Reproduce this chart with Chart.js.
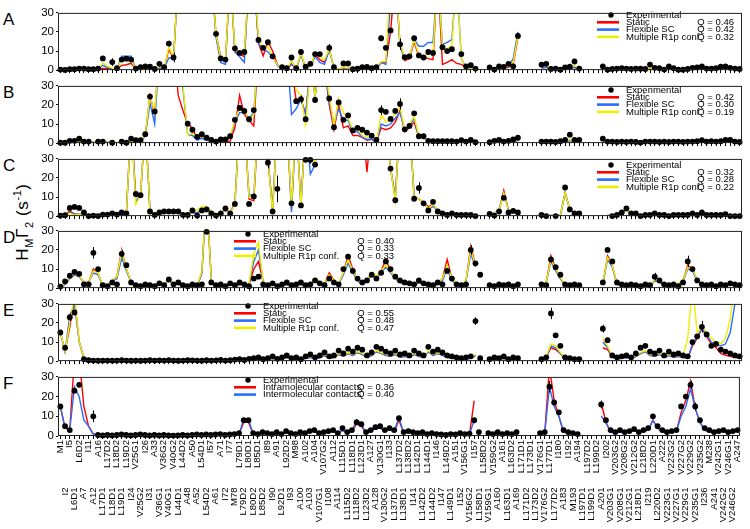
<!DOCTYPE html>
<html>
<head>
<meta charset="utf-8">
<script src="https://cdn.jsdelivr.net/npm/chart.js@4.4.1/dist/chart.umd.min.js"></script>
<style>
  body { margin: 0; background: #fff; width: 750px; height: 529px; overflow: hidden; position: relative;
         font-family: "Liberation Sans", Arial, sans-serif; }
  canvas { position: absolute; left: 0; }
  .letter { position: absolute; left: 3px; font-size: 17px; line-height: 17px; }
  #ytitle { position: absolute; left: 23px; top: 222px; font-size: 17px; white-space: nowrap; letter-spacing: 0.6px;
            transform: translate(-50%, -50%) rotate(-90deg); }
  #ytitle sub, #ytitle sup { font-size: 11px; }
</style>
</head>
<body>
<div id="ytitle">H<sub>M</sub>Γ<sub>2</sub> (s<sup>-1</sup>)</div>
<script>
const _ = null;

// residue labels along the x axis
const residues = [
  "M1", "I2", "I5", "L6D1", "L6D2", "A7", "I11", "A12", "A16", "L17D1",
  "L17D2", "L18D1", "L18D2", "L19D1", "L19D2", "I24", "V25G1", "V25G2", "I26", "I31",
  "A33", "V36G1", "V36G2", "V40G1", "V40G2", "L44D1", "L44D2", "A48", "A50", "A52",
  "L54D1", "L54D2", "I57", "A61", "A71", "I72", "I77", "M78", "L79D1", "L79D2",
  "L80D1", "L80D2", "L85D1", "L85D2", "I89", "I90", "A91", "L92D1", "L92D2", "I93",
  "M98", "A100", "A102", "A103", "A104", "V107G1", "V107G2", "I108", "A112", "A114",
  "L115D1", "L115D2", "L118D1", "L118D2", "L123D1", "L123D2", "A127", "A128", "V130G1", "V130G2",
  "I133", "L137D1", "L137D2", "L138D1", "L138D2", "I141", "L142D1", "L142D2", "L144D1", "L144D2",
  "I146", "I147", "L149D2", "L149D1", "A151", "I152", "V156G1", "V156G2", "I157", "L158D1",
  "L158D2", "V159G1", "V159G2", "A160", "A161", "L163D1", "L163D2", "A169", "L171D1", "L171D2",
  "L173D1", "L173D2", "V176G1", "V176G2", "L177D1", "L177D2", "I180", "A183", "I192", "M193",
  "A194", "L197D1", "L197D2", "L199D1", "L199D2", "A201", "I202", "V203G1", "V203G2", "V208G1",
  "V208G2", "V212G1", "V212G2", "L218D1", "L218D2", "I219", "L220D1", "L220D2", "A222", "V223G1",
  "V223G2", "V227G1", "V227G2", "V229G1", "V229G2", "V235G1", "V235G2", "I236", "M238", "A241",
  "V242G1", "V242G2", "V246G1", "V246G2", "A247",
];

// ---- panel A ----
const expA = [
  0.3, 0.1, 0.5, 0.5, 0.8, 0.8, 0.5, 0.5, 0.8, 6.1,
  _, 4.2, 1, 5.5, 6, 5.5, 0.8, 1.5, 2, 1.8,
  0.6, 3.3, 1.5, 13.9, 6.6, _, _, _, _, _,
  _, _, _, 19, 6.1, 5.5, _, 11.4, 9, 9.5,
  _, _, 15.8, 11.7, 14.6, 7.2, _, 1.5, 1, 6.6,
  1, 9.5, 1.8, 3.3, 8.4, 8.4, _, 11.7, 1.5, _,
  3.5, 3.5, 0.5, 0.7, 1.5, 1.7, 1, 1.5, 16.7, 11.7,
  20.8, _, 13.5, 6.8, 7.2, 16.7, 7.7, 6.6, 9.5, 9,
  _, 12, 10, 11, _, 8.4, 2, 2.6, 0.8, _,
  _, 1.4, 0.3, 2, 1.7, 3.3, 2, 17.9, _, _,
  _, _, 2.9, 3.3, 0.6, 0.8, 0.2, 1.4, 1.8, 4.5,
  0.8, _, _, _, _, 2, 0.2, 0.6, 0.8, 1,
  0.8, 0.6, 0.8, 0.7, 0.6, 2.9, 1.2, 1, 0.3, 2,
  1, 0.2, 0.2, 0.6, 1.2, 1.4, 2, 0.8, 0.8, 1,
  1.8, 2, 1.2, 0.8, 0.6,
];
const statA = [
  0.2, 0.2, 0.2, 0.3, 0.3, 0.3, 0.2, 0.2, 0.3, 0.8,
  0.8, 0.6, 0.2, 2.5, 2.8, 3.6, 0.5, 0.8, 1, 0.8,
  0.2, 0.8, 0.8, 11, 6, 50, 50, 50, 50, 50,
  50, 50, 50, 19, 7, 5, 50, 10, 8.5, 7,
  50, 50, 14, 7.5, 15, 10, 3, 0.5, 0.5, 3,
  0.5, 8.5, 1, 2, 8, 5.5, 4, 11, 1, 0.5,
  1, 1.3, 0.5, 0.4, 0.5, 0.5, 0.4, 0.8, 4, 4,
  20, 50, 14, 5, 6, 15, 7, 7, 6, 5.5,
  50, 3, 4, 5.5, 3.5, 3, 1.5, 1, 0.3, _,
  _, 0.8, 0.4, 1.2, 1.2, 1.5, 3, 17, _, _,
  _, _, 1.5, 1.5, 0.6, 0.5, 0.3, 0.8, 1, 1.5,
  0.4, _, _, _, _, 0.3, 0.2, 0.3, 0.3, 0.3,
  0.3, 0.2, 0.3, 0.3, 0.3, 1, 0.4, 0.3, 0.2, 0.6,
  0.3, 0.2, 0.2, 0.3, 0.3, 0.4, 0.5, 0.3, 0.3, 0.3,
  0.4, 0.5, 0.4, 0.3, 0.3,
];
const flexA = [
  0.2, 0.2, 0.2, 0.3, 0.3, 0.3, 0.2, 0.2, 0.3, 2.5,
  1.5, 0.8, 0.3, 7.3, 7.3, 7.3, 0.5, 1, 1.2, 1,
  0.2, 1.2, 1, 6.5, 6, 50, 50, 50, 50, 50,
  50, 50, 50, 17, 4, 3, 50, 9.5, 7, 4,
  50, 50, 14, 11, 9.5, 7, 2.5, 0.3, 0.3, 3.5,
  0.5, 8, 1, 2, 7, 4, 3, 10.5, 1, 0.5,
  1.5, 1.3, 0.5, 0.4, 0.5, 0.5, 0.4, 0.8, 4, 3,
  35, 50, 13, 6, 7, 16, 12.5, 12.5, 14.5, 14.5,
  50, 13.5, 14.5, 16, 50, 6, 1.5, 1, 0.3, _,
  _, 1, 0.5, 1.5, 1.5, 2, 6, 20, _, _,
  _, _, 1, 1.5, 0.6, 0.5, 0.3, 0.8, 1, 1.5,
  0.4, _, _, _, _, 0.3, 0.2, 0.3, 0.3, 0.3,
  0.3, 0.2, 0.3, 0.3, 0.3, 0.6, 0.4, 0.3, 0.2, 0.4,
  0.3, 0.2, 0.2, 0.3, 0.3, 0.4, 0.5, 0.3, 0.3, 0.3,
  0.4, 0.5, 0.4, 0.3, 0.3,
];
const multA = [
  0.3, 0.3, 0.3, 0.4, 0.4, 0.4, 0.3, 0.3, 0.4, 3.8,
  2, 1, 0.3, 5.8, 5.8, 5.5, 0.5, 1, 1.2, 1,
  0.3, 1.8, 1, 12.2, 6.5, 50, 50, 50, 50, 50,
  50, 50, 50, 19, 6, 5, 50, 11, 9, 9,
  50, 50, 17, 12, 12, 7, 3, 0.5, 0.5, 5,
  0.5, 9, 1, 2, 8.5, 7, 5.5, 11, 1, 0.5,
  1.5, 1.3, 0.5, 0.5, 0.5, 0.6, 0.5, 1.5, 4.5, 4.5,
  50, 50, 15, 6, 7, 16, 8, 7, 9, 9,
  50, 12, 11, 13, 50, 6, 1.5, 1, 0.3, _,
  _, 1, 0.5, 1.5, 1.5, 2, 4, 18, _, _,
  _, _, 2, 2.5, 0.8, 0.6, 0.4, 1, 1.2, 2.5,
  0.5, _, _, _, _, 0.5, 0.4, 0.4, 0.5, 0.5,
  0.4, 0.4, 0.5, 0.5, 0.4, 1, 0.6, 0.5, 0.4, 0.8,
  0.5, 0.4, 0.4, 0.5, 0.5, 0.6, 0.8, 0.5, 0.5, 0.5,
  0.8, 0.8, 0.6, 0.5, 0.4,
];
const errA = [[11, 2], [23, 1.5], [24, 2.5], [57, 2], [68, 1.5], [72, 3], [97, 1]];
const qA = ["0.46", "0.42", "0.32"];

// ---- panel B ----
const expB = [
  0.2, 0.2, 1.2, 1.2, 2.3, 0.8, 0.8, _, 0.8, 0.8,
  _, 0.2, _, 0.8, 0.2, 2.3, 1.5, 1.5, 4.7, 24.4,
  16.6, _, _, _, _, _, _, 10.2, 7, 3.3,
  4.7, 2.8, 1.7, 0.8, 2, 2, 3.6, 12.2, 18.4, 16.9,
  12.5, 17.3, _, _, _, _, _, _, _, _,
  22, 23, 12.5, _, 22.6, _, _, 23.4, 8.3, 21.3,
  12.2, 14.5, 6.7, 8, 7, 5.5, 3.9, 1.7, 17.3, 16.4,
  12.7, 16.9, 20.5, 7.2, 9, 15.6, 3.6, 3.6, 1.2, 1,
  1, 1, 1, 1, 0.8, 1.6, 0.8, 1.7, 0.5, _,
  _, 0.5, 1.2, 1.7, 0.8, 1.2, 2, 2.8, _, _,
  _, _, 0.8, 0.8, 0.8, 0.6, 1, 1.7, 4.4, 1.7,
  1.7, _, _, _, _, 2.3, 0.8, 0.8, 0.6, 0.8,
  0.6, 0.8, 0.6, 0.3, 0.8, 0.8, 0.8, 0.6, 0.8, 0.6,
  0.8, 0.8, 0.6, 0.8, 0.8, 1, 1.5, 0.8, 1, 0.8,
  1, 1.7, 1.7, 0.8, 0.6,
];
const statB = [
  0.2, 0.2, 0.5, 0.5, 0.8, 0.4, 0.3, 0.3, 0.3, 0.3,
  0.3, 0.2, 0.2, 0.3, 0.2, 0.8, 0.8, 0.8, 4, 25,
  15, 50, 50, 50, 50, 25, 17, 10, 8, 2,
  3, 2, 1, 0.5, 0.5, 0.5, 1, 8, 25, 15,
  12, 9, 50, 50, 50, 50, 50, 50, 50, 40,
  22, 23, 15, 40, 25, 40, 40, 20, 7, 20,
  8, 9, 4, 4, 3, 1.5, 2, 0.5, 8, 7,
  8, 11, 17, 6, 8, 11, 3, 3, 1, 0.3,
  0.3, 0.3, 0.3, 0.3, 0.3, 0.4, 0.3, 0.4, 0.3, _,
  _, 0.5, 0.5, 0.6, 0.5, 0.6, 0.8, 1.5, _, _,
  _, _, 0.4, 0.4, 0.4, 0.3, 0.4, 0.6, 1.5, 0.6,
  0.5, _, _, _, _, 0.5, 0.3, 0.3, 0.3, 0.3,
  0.3, 0.3, 0.3, 0.2, 0.3, 0.3, 0.3, 0.3, 0.3, 0.3,
  0.3, 0.3, 0.3, 0.3, 0.3, 0.3, 0.5, 0.3, 0.3, 0.3,
  0.3, 0.5, 0.5, 0.3, 0.3,
];
const flexB = [
  0.2, 0.2, 0.5, 0.5, 0.8, 0.4, 0.3, 0.3, 0.3, 0.3,
  0.3, 0.2, 0.2, 0.3, 0.2, 0.8, 0.8, 0.8, 4, 21,
  10, 50, 50, 50, 50, 50, 28, 4.5, 4, 1.5,
  2.5, 1.5, 0.8, 0.5, 1, 1, 3, 11, 16, 16,
  13, 16, 50, 50, 50, 50, 50, 50, 50, 15,
  18, 23, 15, 40, 25, 40, 40, 22, 10, 18,
  12, 12, 5.5, 6, 3, 2, 2, 0.5, 10, 9,
  10, 13, 16, 7, 9, 13, 3, 3, 1, 0.3,
  0.3, 0.3, 0.3, 0.3, 0.3, 0.4, 0.3, 0.4, 0.3, _,
  _, 0.5, 0.5, 0.6, 0.5, 0.6, 0.8, 1.5, _, _,
  _, _, 0.4, 0.4, 0.4, 0.3, 0.4, 0.6, 1.5, 0.6,
  0.5, _, _, _, _, 0.5, 0.3, 0.3, 0.3, 0.3,
  0.3, 0.3, 0.3, 0.2, 0.3, 0.3, 0.3, 0.3, 0.3, 0.3,
  0.3, 0.3, 0.3, 0.3, 0.3, 0.3, 0.5, 0.3, 0.3, 0.3,
  0.3, 0.5, 0.5, 0.3, 0.3,
];
const multB = [
  0.3, 0.3, 0.6, 0.6, 1, 0.5, 0.4, 0.4, 0.4, 0.4,
  0.4, 0.3, 0.3, 0.4, 0.3, 1, 1, 1, 4.5, 25,
  16, 50, 50, 50, 50, 50, 30, 4.5, 5, 2.5,
  3.5, 2, 1, 0.5, 1.5, 1.5, 4, 12, 18, 17,
  12, 15, 50, 50, 50, 50, 50, 50, 50, 40,
  28, 25, 9.5, 40, 25, 40, 40, 25, 9, 23.4,
  16, 13, 7, 7.5, 4, 3, 3.5, 0.5, 15, 11,
  13, 15, 19, 7, 10, 14, 3.5, 3, 1, 0.4,
  0.4, 0.4, 0.4, 0.4, 0.4, 0.5, 0.4, 0.5, 0.4, _,
  _, 0.6, 0.6, 0.8, 0.6, 0.8, 1, 2, _, _,
  _, _, 0.5, 0.5, 0.5, 0.4, 0.5, 0.8, 2, 0.8,
  0.6, _, _, _, _, 0.6, 0.4, 0.4, 0.4, 0.4,
  0.4, 0.4, 0.4, 0.3, 0.4, 0.4, 0.4, 0.4, 0.4, 0.4,
  0.4, 0.4, 0.4, 0.4, 0.4, 0.4, 0.6, 0.4, 0.4, 0.4,
  0.4, 0.6, 0.6, 0.4, 0.4,
];
const errB = [[19, 1.5], [51, 2], [68, 2.5], [72, 3], [108, 1]];
const qB = ["0.42", "0.30", "0.19"];

// ---- panel C ----
const expC = [
  0.3, 0.5, 4.3, 4.8, 4.3, 1.9, 0, 0.3, 0, 0.8,
  0.8, 1.4, 0.8, 1.9, 1.4, _, 11.6, 11, _, 2.4,
  0.6, 1.9, 2.4, 2.4, 2.4, 2.4, 0.6, 0.6, 3, 0.3,
  3, 3.5, 1.4, 0.3, 1.4, 4, 1.4, 6.4, _, _,
  6.4, 10.3, _, _, 28, 2.4, 14.3, _, _, 6.7,
  _, 5.6, 29.5, 29.5, 27, _, _, _, _, _,
  _, _, _, _, _, _, _, _, _, _,
  24.9, 8.3, _, _, _, 9.1, 14.8, 6.7, 3, 7.5,
  2.4, 1.4, 0.6, 1.4, 0.6, 0.6, 0.6, 0.6, 0, _,
  _, 1.1, 0.3, 2.4, 9.6, 1.9, 2.7, 1.9, _, _,
  _, _, 0.6, 0, _, 0, _, 15, 3.5, 1.4,
  1.4, _, _, _, _, _, _, 0, 0.6, 1.9,
  4, 1.4, 1.4, 0, 0.6, 0.6, 1.4, 0.6, 0.6, 0,
  0.6, 0.6, 0.6, 0.6, 1.4, 0.6, 1.9, 0.6, 0.6, 0.6,
  0.6, 1, 0, 0, 0,
];
const statC = [
  0.3, 0.5, 2.7, 1, 1, 1.2, 0.3, 0.3, 0.3, 0.5,
  0.8, 1, 1, 2, 2, 50, 10, 11, 50, 2.5,
  1, 1.5, 2, 2, 2, 2, 1, 1, 2, 1.5,
  3.5, 3.5, 2.5, 1, 1.5, 3, 2, 7, 50, 50,
  9, 8, 50, 50, 30, 3, 50, 50, 50, 4,
  50, 6, 50, 35, 28, 50, 50, 50, 50, 50,
  50, 50, 50, 50, 50, 23, 50, 50, 50, 50,
  25, 10, 50, 50, 50, 10, 9, 7, 5, 6,
  3, 2, 1, 1.5, 1, 0.5, 0.5, 0.5, 0.5, _,
  _, 1, 1.5, 3, 13.5, 3, 2.5, 2, _, _,
  _, _, 0.3, 0.3, 0.3, 0.3, 0.3, 12.4, 3.5, 1.5,
  1.5, _, _, _, _, _, 0.5, 0.5, 0.8, 2,
  2.7, 2, 1, 0.5, 0.5, 0.5, 0.8, 0.5, 0.5, 0.5,
  0.5, 0.5, 0.5, 0.5, 0.8, 0.5, 1, 0.5, 0.5, 0.5,
  0.5, 0.6, 0.4, 0.4, 0.4,
];
const flexC = [
  0.3, 0.5, 2, 1, 1, 1.2, 0.3, 0.3, 0.3, 0.5,
  0.8, 1, 1, 2, 2, 50, 7.5, 11, 50, 2.5,
  1, 1.5, 2, 2, 2, 2, 1, 1, 2, 1.5,
  4, 4, 2.5, 1, 1.5, 3, 2, 6, 50, 50,
  11, 11, 50, 50, 30, 4, 50, 50, 50, 2,
  50, 5, 50, 22, 27, 50, 50, 50, 50, 50,
  50, 50, 50, 50, 50, 50, 50, 50, 50, 50,
  25, 9, 50, 50, 50, 10, 9, 7, 3.5, 5,
  3, 2, 1, 1.5, 1, 0.5, 0.5, 0.5, 0.5, _,
  _, 1, 1.5, 3, 12, 3, 2.5, 2, _, _,
  _, _, 0.3, 0.3, 0.3, 0.3, 0.3, 12.4, 3.5, 1.5,
  1.5, _, _, _, _, _, 0.5, 0.5, 0.8, 2,
  2.7, 2, 1, 0.5, 0.5, 0.5, 0.8, 0.5, 0.5, 0.5,
  0.5, 0.5, 0.5, 0.5, 0.8, 0.5, 1, 0.5, 0.5, 0.5,
  0.5, 0.6, 0.4, 0.4, 0.4,
];
const multC = [
  0.3, 0.5, 1.5, 0.5, 1, 1.2, 0.3, 0.3, 0.3, 0.5,
  0.8, 1, 1, 2, 2, 50, 6, 11, 50, 2.5,
  1, 1.5, 2, 2, 2, 2, 1, 1, 2, 3,
  5, 5, 2.5, 1, 1.5, 3, 2, 6, 50, 50,
  10, 10, 50, 50, 30, 2, 50, 50, 50, 5,
  50, 5, 50, 35, 28, 50, 50, 50, 50, 50,
  50, 50, 50, 50, 50, 50, 50, 50, 50, 50,
  25, 8, 50, 50, 50, 10, 9, 7, 4, 6,
  3, 2, 1, 1.5, 1, 0.5, 0.5, 0.5, 0.5, _,
  _, 1, 1.5, 3, 12, 3, 2.5, 2, _, _,
  _, _, 0.3, 0.3, 0.3, 0.3, 0.3, 12.4, 3.5, 1.5,
  1.5, _, _, _, _, _, 0.5, 0.5, 0.8, 2.7,
  2.7, 2, 1, 0.5, 0.5, 0.5, 0.8, 0.5, 0.5, 0.5,
  0.5, 0.5, 0.5, 0.5, 0.8, 0.5, 1, 0.5, 0.5, 0.5,
  0.5, 0.6, 0.4, 0.4, 0.4,
];
const errC = [[44, 3], [46, 7], [52, 1], [53, 2], [76, 3]];
const qC = ["0.32", "0.28", "0.22"];

// ---- panel D ----
const expD = [
  0.8, 3.5, 6.5, 8.5, 7.5, 2, 2, 18.5, 10, 1.5,
  1, 3, 2, 18, 12, 3, 1.5, 1, 2, 1.5,
  1, 2.5, 1.5, 4.5, 2, 3, 1.5, 1, 2, 1.5,
  2, 29.5, 3, 1.5, 2, 1, 2.5, 1.5, 3, 2,
  1, 5, 6, 2, 1.5, 2.5, 1, 2, 3, 1.5,
  2, 3, 1.5, 2, 4, 2.5, 1.5, 5, 3, 2,
  10, 16.5, 9, 5, 3, 4, 7, 5, 8, 14,
  10, 6, 4, 3, 2.5, 2, 4, 2.5, 2, 1.5,
  3, 2, 9, 5, 2, 1.5, 2, 20, 13, 7,
  _, 1.5, 1, 2, 1.5, 2, 1, 2, _, _,
  _, _, 2, 1.5, 15, 11, 7, 2, 1.5, 2,
  1.5, _, _, _, _, 3, 20, 14, 3, 2,
  1.5, 2, 1.5, 1, 2, 1.5, 6, 4, 2, 1.5,
  2, 1, 3, 14, 10, 4, 2, 1.5, 2, 1,
  2, 1.5, 2.5, 2, 1.5,
];
const statD = [
  0.5, 2, 5, 7, 6, 3, 3, 10, 8, 1,
  1, 4, 6, 20, 10, 3, 1, 1, 1.5, 1,
  1, 3, 2, 5, 2, 2, 1, 1, 1.5, 1,
  8, 50, 4, 1, 1.5, 1, 2, 1, 2, 1.5,
  2, 10, 14, 3, 1, 2, 1, 1.5, 2, 1,
  1.5, 2, 1, 2, 5, 3, 2, 8, 4, 2,
  8, 17, 10, 4, 2, 4, 8, 6, 9, 15,
  9, 5, 3, 2, 2, 1.5, 3, 2, 1.5, 1,
  2, 5, 15, 5, 2, 1, 4, 22, 12, _,
  _, 1, 1, 1.5, 1, 1.5, 1, 1.5, _, _,
  _, _, 1, 3, 17, 10, 5, 1.5, 1, 1.5,
  1, _, _, _, _, 2, 17, 12, 2, 1.5,
  1, 1.5, 1, 1, 1.5, 1, 4, 3, 1.5, 1,
  2, 2, 4, 12, 10, 4, 2, 1.5, 1.5, 1,
  1.5, 1.5, 2, 1.5, 1,
];
const flexD = [
  0.5, 2, 5, 7, 6, 3, 3, 8, 7, 1,
  1, 3.5, 5, 16, 9, 3, 1, 1, 1.5, 1,
  1, 2.5, 2, 4, 2, 2, 1, 1, 1.5, 1,
  8, 50, 4, 1, 1.5, 1, 2, 1, 2, 1.5,
  2, 14, 20, 3, 1, 2, 1, 1.5, 2, 1,
  1.5, 2, 1, 2, 4, 3, 2, 6, 3.5, 2,
  7, 13, 8, 4, 2, 3.5, 7, 5, 8, 11,
  8, 5, 3, 2, 2, 1.5, 3, 2, 1.5, 1,
  2, 4, 10, 4, 2, 1, 4, 18, 11, _,
  _, 1, 1, 1.5, 1, 1.5, 1, 1.5, _, _,
  _, _, 1, 3, 14, 9, 5, 1.5, 1, 1.5,
  1, _, _, _, _, 2, 15, 11, 2, 1.5,
  1, 1.5, 1, 1, 1.5, 1, 4, 3, 1.5, 1,
  2, 2, 3.5, 10, 9, 4, 2, 1.5, 1.5, 1,
  1.5, 1.5, 2, 1.5, 1,
];
const multD = [
  0.6, 2.5, 5.5, 7.5, 6.5, 3, 3, 9, 8, 1.2,
  1.2, 4, 6, 19, 10, 3, 1.2, 1.2, 1.8, 1.2,
  1.2, 3.5, 2, 5, 2, 2, 1.2, 1.2, 1.8, 1.2,
  9, 50, 4, 1.2, 1.8, 1.2, 2.5, 1.2, 2.5, 1.8,
  2.5, 18, 24, 3, 1.2, 2.5, 1.2, 1.8, 2.5, 1.2,
  1.8, 2.5, 1.2, 2.5, 5, 3.5, 2.5, 7, 4, 2.5,
  8, 15, 9, 4.5, 2.5, 4, 8, 6, 9, 12,
  9, 5, 3, 2.5, 2.5, 1.8, 3.5, 2.5, 1.8, 1.2,
  2.5, 5, 12, 5, 2.5, 1.2, 4.5, 20, 12, _,
  _, 1.2, 1.2, 1.8, 1.2, 1.8, 1.2, 1.8, _, _,
  _, _, 1.2, 3.5, 15, 10, 5.5, 1.8, 1.2, 1.8,
  1.2, _, _, _, _, 2.5, 16, 12, 2.5, 1.8,
  1.2, 1.8, 1.2, 1.2, 1.8, 1.2, 4.5, 3.5, 1.8, 1.2,
  2.5, 2.5, 4, 11, 10, 4.5, 2.5, 1.8, 1.8, 1.2,
  1.8, 1.8, 2.5, 1.8, 1.2,
];
const errD = [[7, 3], [13, 2], [87, 2.5], [126, 2], [133, 3]];
const qD = ["0.40", "0.33", "0.33"];

// ---- panel E ----
const expE = [
  15, 7, 23, 25.5, _, 1, 0.5, 0.3, 0.2, 0.3,
  0.3, 0.2, 0.3, 0.5, 0.3, 0.2, 0.3, 0.2, 0.3, 0.5,
  0.3, 0.4, 0.3, 0.5, 0.3, 0.2, 0.3, 0.5, 0.4, 0.3,
  0.2, 0.5, 0.3, 0.4, 0.6, 0.3, 0.5, 0.8, 1, 0.6,
  1.2, 1.5, 2, 1, 1.5, 2.5, 1.2, 2, 3, 1.5,
  2, 1, 2.5, 3.5, 2, 3, 4.5, 2.5, 3, 5.5,
  4, 6.5, 5, 7, 6, 3, 4.5, 7.5, 6.5, 5,
  4, 5.5, 3.5, 4, 3, 5.5, 4, 3, 7.5, 5,
  6, 4.5, 3, 2.5, 2, 1.5, 2, 2.5, 21, 1.5,
  _, 1, 2, 1.5, 2.5, 1, 2, 1.5, _, _,
  _, _, 1, 2, 25, 13.5, 8, 2, 1.5, 1,
  1, _, _, _, _, 17, 11, 3, 2, 2.5,
  3, 2, 4, 7, 8, 5, 4, 5.5, 3, 5,
  3.5, 4, 3, 2.5, 10, 13, 18, 14, 8, 9,
  6, 5, 4, 3, 2.5,
];
const statE = [
  15, 5, 18, 32, 10, 1.5, 0.3, 0.2, 0.2, 0.2,
  0.2, 0.2, 0.2, 0.3, 0.2, 0.2, 0.2, 0.2, 0.2, 0.3,
  0.2, 0.3, 0.2, 0.3, 0.2, 0.2, 0.2, 0.3, 0.3, 0.2,
  0.2, 0.3, 0.2, 0.3, 0.4, 0.2, 0.3, 0.5, 0.6, 0.4,
  0.8, 1, 1.2, 0.7, 1, 1.5, 0.8, 1.2, 2, 1,
  1.2, 0.8, 1.5, 2, 1.2, 1.8, 3, 1.5, 2, 3.5,
  2.5, 4, 3, 4.5, 3.5, 2, 3, 5, 4, 3,
  2.5, 3.5, 2, 2.5, 2, 3.5, 2.5, 2, 5, 3,
  4, 3, 2, 1.5, 1.2, 1, 1.2, 1.5, 3, _,
  _, 0.6, 1.2, 1, 1.5, 0.6, 1.2, 1, _, _,
  _, _, 0.6, 2, 7, 6, 4, 1.2, 1, 0.6,
  0.6, _, _, _, _, 7, 6, 2, 1.2, 1.5,
  2, 1.2, 2.5, 4, 5, 3, 2.5, 3.5, 2, 3,
  2, 2.5, 2, 1.5, 8, 12, 17, 13, 9, 7,
  4, 3, 2.5, 2, 1.5,
];
const flexE = [
  15, 5, 24, 30, 10, 1.5, 0.3, 0.2, 0.2, 0.2,
  0.2, 0.2, 0.2, 0.3, 0.2, 0.2, 0.2, 0.2, 0.2, 0.3,
  0.2, 0.3, 0.2, 0.3, 0.2, 0.2, 0.2, 0.3, 0.3, 0.2,
  0.2, 0.3, 0.2, 0.3, 0.4, 0.2, 0.3, 0.5, 0.6, 0.4,
  0.8, 1, 1.2, 0.7, 1, 1.5, 0.8, 1.2, 2, 1,
  1.2, 0.8, 1.5, 2, 1.2, 1.8, 3, 1.5, 2, 3.5,
  2.5, 4, 3, 4.5, 3.5, 2, 3, 5, 4, 3,
  2.5, 3.5, 2, 2.5, 2, 3.5, 2.5, 2, 5, 3,
  4, 3, 2, 1.5, 1.2, 1, 1.2, 1.5, 3, _,
  _, 0.6, 1.2, 1, 1.5, 0.6, 1.2, 1, _, _,
  _, _, 0.6, 2, 8, 7, 4, 1.2, 1, 0.6,
  0.6, _, _, _, _, 10, 7, 2, 1.2, 1.5,
  2, 1.2, 2.5, 4, 5, 3, 2.5, 3.5, 2, 3,
  2, 2.5, 2, 1.5, 9, 13, 17, 14, 10, 9,
  8, 9, 15, 30, 40,
];
const multE = [
  15, 5, 20, 35, 10, 1.5, 0.4, 0.3, 0.3, 0.3,
  0.3, 0.3, 0.3, 0.4, 0.3, 0.3, 0.3, 0.3, 0.3, 0.4,
  0.3, 0.4, 0.3, 0.4, 0.3, 0.3, 0.3, 0.4, 0.4, 0.3,
  0.3, 0.4, 0.3, 0.4, 0.5, 0.3, 0.4, 0.6, 0.8, 0.5,
  1, 1.2, 1.5, 0.9, 1.2, 1.8, 1, 1.5, 2.5, 1.2,
  1.5, 1, 1.8, 2.5, 1.5, 2.2, 3.5, 1.8, 2.5, 4,
  3, 4.5, 3.5, 5, 4, 2.5, 3.5, 5.5, 4.5, 3.5,
  3, 4, 2.5, 3, 2.5, 4, 3, 2.5, 5.5, 3.5,
  4.5, 3.5, 2.5, 1.8, 1.5, 1.2, 1.5, 1.8, 3.5, _,
  _, 0.8, 1.5, 1.2, 1.8, 0.8, 1.5, 1.2, _, _,
  _, _, 0.8, 2.5, 9, 8, 4.5, 1.5, 1.2, 0.8,
  0.8, _, _, _, _, 12, 8, 2.5, 1.5, 1.8,
  2.5, 1.5, 3, 4.5, 5.5, 3.5, 3, 4, 2.5, 3.5,
  2.5, 3, 2.5, 12, 40, 15, 18, 15, 12, 10,
  9, 12, 22, 40, 45,
];
const errE = [[2, 2], [88, 2], [104, 3], [115, 2], [136, 3]];
const qE = ["0.55", "0.48", "0.47"];

// ---- panel F ----
const expF = [
  15, 5, 3, 23, 26, _, _, 10, 0.5, 0.3,
  0.5, 0.3, 0.5, 0.8, 0.5, 0.3, 0.5, 0.8, 0.5, 0.3,
  0.5, 0.3, 0.5, 0.3, 0.2, 0.3, 0.5, 0.3, 0.5, 0.8,
  0.5, 0.8, 0.5, 0.8, 1, 0.5, 0.8, 1, 1.5, 8,
  8, 1.5, 1, 2, 1.5, 1, 2, 1, 2.5, 1.5,
  1, 2, 1.5, 2.5, 3, 1.5, 2, 2.5, 3, 1.5,
  4, 2, 3, 7, 6, 2, 3, 4.5, 5, 3,
  4, 3, 9, 2, 2.5, 2, 1.5, 2, 1, 1.5,
  1, 0.8, 0.5, 1, 0.8, 1.5, 1, 1.2, 8, 2,
  _, 1.5, 1, 2, 1, 1.5, 1, 2, _, _,
  _, _, 1.5, 2, 25, 17, 12, 3, 2, 1.5,
  1, _, _, _, _, 16, 8, 3, 2, 3,
  2, 2.5, 3.5, 2, 3, 4, 10, 5, 3, 2,
  2.5, 3, 15, 20, 26, 15, 8, 4, 3, 2,
  2.5, 3, 2, 2.5, 3,
];
const intraF = [
  15, 4, 3, 40, 40, 15, 5, 1, 0.5, 0.3,
  0.3, 0.3, 0.3, 0.5, 0.3, 0.3, 0.3, 0.5, 0.3, 0.3,
  0.3, 0.3, 0.3, 0.3, 0.2, 0.3, 0.3, 0.3, 0.3, 0.5,
  0.3, 0.5, 0.3, 0.5, 0.6, 0.3, 0.5, 0.6, 1, 7,
  7, 1, 0.8, 1.5, 1, 0.8, 1.5, 0.8, 2, 1,
  0.8, 1.5, 1, 2, 2.5, 1, 1.5, 2, 2.5, 1,
  3, 1.5, 2.5, 6, 5, 1.5, 2.5, 4, 4, 2.5,
  3, 2.5, 8, 1.5, 2, 1.5, 1, 1.5, 0.8, 1,
  0.8, 0.5, 0.4, 0.8, 0.5, 1, 0.8, 1, 18, _,
  _, 1, 0.8, 1.5, 0.8, 1, 0.8, 1.5, _, _,
  _, _, 1, 1.5, 35, 18, 10, 2, 1.5, 1,
  0.8, _, _, _, _, 17, 7, 2, 1.5, 2,
  1.5, 2, 3, 1.5, 2.5, 3, 8, 4, 2, 1.5,
  2, 2.5, 12, 18, 28, 14, 7, 3, 2, 1.5,
  2, 2.5, 1.5, 2, 2.5,
];
const interF = [
  15, 4, 3, 25, 20, 8, 5, 1, 0.5, 0.3,
  0.3, 0.3, 0.3, 0.5, 0.3, 0.3, 0.3, 0.5, 0.3, 0.3,
  0.3, 0.3, 0.3, 0.3, 0.2, 0.3, 0.3, 0.3, 0.3, 0.5,
  0.3, 0.5, 0.3, 0.5, 0.6, 0.3, 0.5, 0.6, 1, 8.5,
  8.5, 1, 0.8, 1.5, 1, 0.8, 1.5, 0.8, 2, 1,
  0.8, 1.5, 1, 2, 2.5, 1, 1.5, 2, 2.5, 1,
  3, 1.5, 2.5, 8, 6, 1.5, 2.5, 4, 4, 2.5,
  3, 2.5, 9.5, 1.5, 2, 1.5, 1, 1.5, 0.8, 1,
  0.8, 0.5, 0.4, 0.8, 0.5, 1, 0.8, 1, 8, _,
  _, 1, 0.8, 1.5, 0.8, 1, 0.8, 1.5, _, _,
  _, _, 1, 1.5, 25, 15, 10, 2, 1.5, 1,
  0.8, _, _, _, _, 10, 7, 2, 1.5, 2,
  1.5, 2, 3, 1.5, 2.5, 3, 8, 4, 2, 1.5,
  2, 2.5, 10, 15, 24, 14, 7, 3, 2, 1.5,
  2, 2.5, 1.5, 2, 2.5,
];
const errF = [[7, 3], [104, 3], [115, 2], [134, 2], [135, 2]];
const qF = ["0.36", "0.40"];

const RED = "#ff0000";
const BLUE = "#2a6cff";
const YELLOW = "#eeee00";
const FONT = '"Liberation Sans", Arial, sans-serif';
const modelNames = ["Static", "Flexible SC", "Multiple R1p conf."];

// legend positions are page coordinates
const panels = [
  { letter: "A", exp: expA, lines: [statA, flexA, multA], names: modelNames, q: qA, err: errA, leg: { x: 597, y: 15, qx: 734 } },
  { letter: "B", exp: expB, lines: [statB, flexB, multB], names: modelNames, q: qB, err: errB, leg: { x: 597, y: 90, qx: 734 } },
  { letter: "C", exp: expC, lines: [statC, flexC, multC], names: modelNames, q: qC, err: errC, leg: { x: 597, y: 165, qx: 734 } },
  { letter: "D", exp: expD, lines: [statD, flexD, multD], names: modelNames, q: qD, err: errD, leg: { x: 234, y: 234, qx: 394 } },
  { letter: "E", exp: expE, lines: [statE, flexE, multE], names: modelNames, q: qE, err: errE, leg: { x: 234, y: 306, qx: 394 } },
  { letter: "F", exp: expF, lines: [intraF, interF], names: ["Intramolecular contacts", "Intermolecular contacts"], q: qF, err: errF, leg: { x: 234, y: 380, qx: 394 } },
];

Chart.defaults.font.family = FONT;

function makePanel(p, k) {
  const plotTop = Math.round(10 + 72.8 * k);
  const last = k === panels.length - 1;
  const xh = last ? 93 : 7;
  const canvasTop = plotTop - 6;

  const letter = document.createElement("div");
  letter.className = "letter";
  letter.style.top = (plotTop + 1) + "px";
  letter.textContent = p.letter;
  document.body.appendChild(letter);

  const canvas = document.createElement("canvas");
  canvas.width = 750;
  canvas.height = 62 + 6 + xh;
  canvas.style.top = canvasTop + "px";
  document.body.appendChild(canvas);

  const colors = [RED, BLUE, YELLOW];
  const lineSets = p.lines.map((d, j) => ({
    data: d,
    borderColor: colors[j],
    borderWidth: 1.4,
    pointRadius: 0,
    fill: false,
    tension: 0,
    spanGaps: false,
  })).reverse();

  const boxPlugin = {
    id: "box" + k,
    afterDatasetsDraw(chart) {
      const { ctx, scales } = chart;
      // error bars
      ctx.save();
      ctx.strokeStyle = "#000";
      ctx.lineWidth = 1;
      for (const [i, e] of p.err) {
        const v = p.exp[i];
        if (v == null) continue;
        const x = Math.round(scales.x.getPixelForValue(i)) + 0.5;
        ctx.beginPath();
        ctx.moveTo(x, scales.y.getPixelForValue(Math.max(0, v - e)));
        ctx.lineTo(x, scales.y.getPixelForValue(Math.min(30, v + e)));
        ctx.stroke();
      }
      // legend
      const L = p.leg;
      const dy = -canvasTop;
      ctx.font = "9.5px " + FONT;
      ctx.textBaseline = "middle";
      ctx.fillStyle = "#000";
      ctx.beginPath();
      ctx.arc(L.x + 14, L.y + dy, 2.7, 0, Math.PI * 2);
      ctx.fill();
      ctx.textAlign = "left";
      ctx.fillText("Experimental", L.x + 29, L.y + dy);
      p.names.forEach((name, j) => {
        const y = L.y + dy + 7.3 * (j + 1);
        ctx.strokeStyle = colors[j];
        ctx.lineWidth = 2.6;
        ctx.beginPath();
        ctx.moveTo(L.x, y);
        ctx.lineTo(L.x + 22, y);
        ctx.stroke();
        ctx.textAlign = "left";
        ctx.fillText(name, L.x + 29, y);
        ctx.textAlign = "right";
        ctx.fillText("Q = " + p.q[j], L.qx, y);
      });
      ctx.restore();
    },
    afterDraw(chart) {
      const { ctx, chartArea: a } = chart;
      ctx.save();
      ctx.strokeStyle = "#222";
      ctx.lineWidth = 1;
      ctx.strokeRect(a.left + 0.5, a.top + 0.5, a.right - a.left - 1, a.bottom - a.top - 1);
      ctx.restore();
    },
  };

  new Chart(canvas, {
    type: "line",
    data: {
      labels: residues,
      datasets: [
        {
          data: p.exp,
          showLine: false,
          pointRadius: 2.9,
          pointBackgroundColor: "#000",
          pointBorderColor: "#000",
          pointBorderWidth: 0,
          borderColor: "#000",
          clip: false,
        },
        ...lineSets,
      ],
    },
    options: {
      responsive: false,
      devicePixelRatio: 1,
      animation: false,
      events: [],
      layout: { padding: { top: 6, right: 8, left: 0, bottom: 0 } },
      plugins: { legend: { display: false }, tooltip: { enabled: false } },
      scales: {
        x: {
          type: "category",
          offset: true,
          border: { display: false },
          grid: { drawOnChartArea: false, drawTicks: true, tickLength: 3, color: "#000" },
          ticks: {
            display: last,
            autoSkip: false,
            minRotation: 90,
            maxRotation: 90,
            padding: 1,
            color: "#000",
            font: { size: 9.5 },
            callback: (v, i) => (i % 2 === 0 ? residues[i] : residues[i] + " ".repeat(18)),
          },
          afterFit: (s) => { s.height = xh; },
        },
        y: {
          min: 0,
          max: 30,
          border: { display: false },
          grid: { drawOnChartArea: false, drawTicks: true, tickLength: 2, color: "#000" },
          ticks: { stepSize: 5, color: "#000", padding: 2, font: { size: 11.5 } },
          afterFit: (s) => { s.width = 58; },
        },
      },
    },
    plugins: [boxPlugin],
  });
}

panels.forEach(makePanel);
</script>
</body>
</html>
